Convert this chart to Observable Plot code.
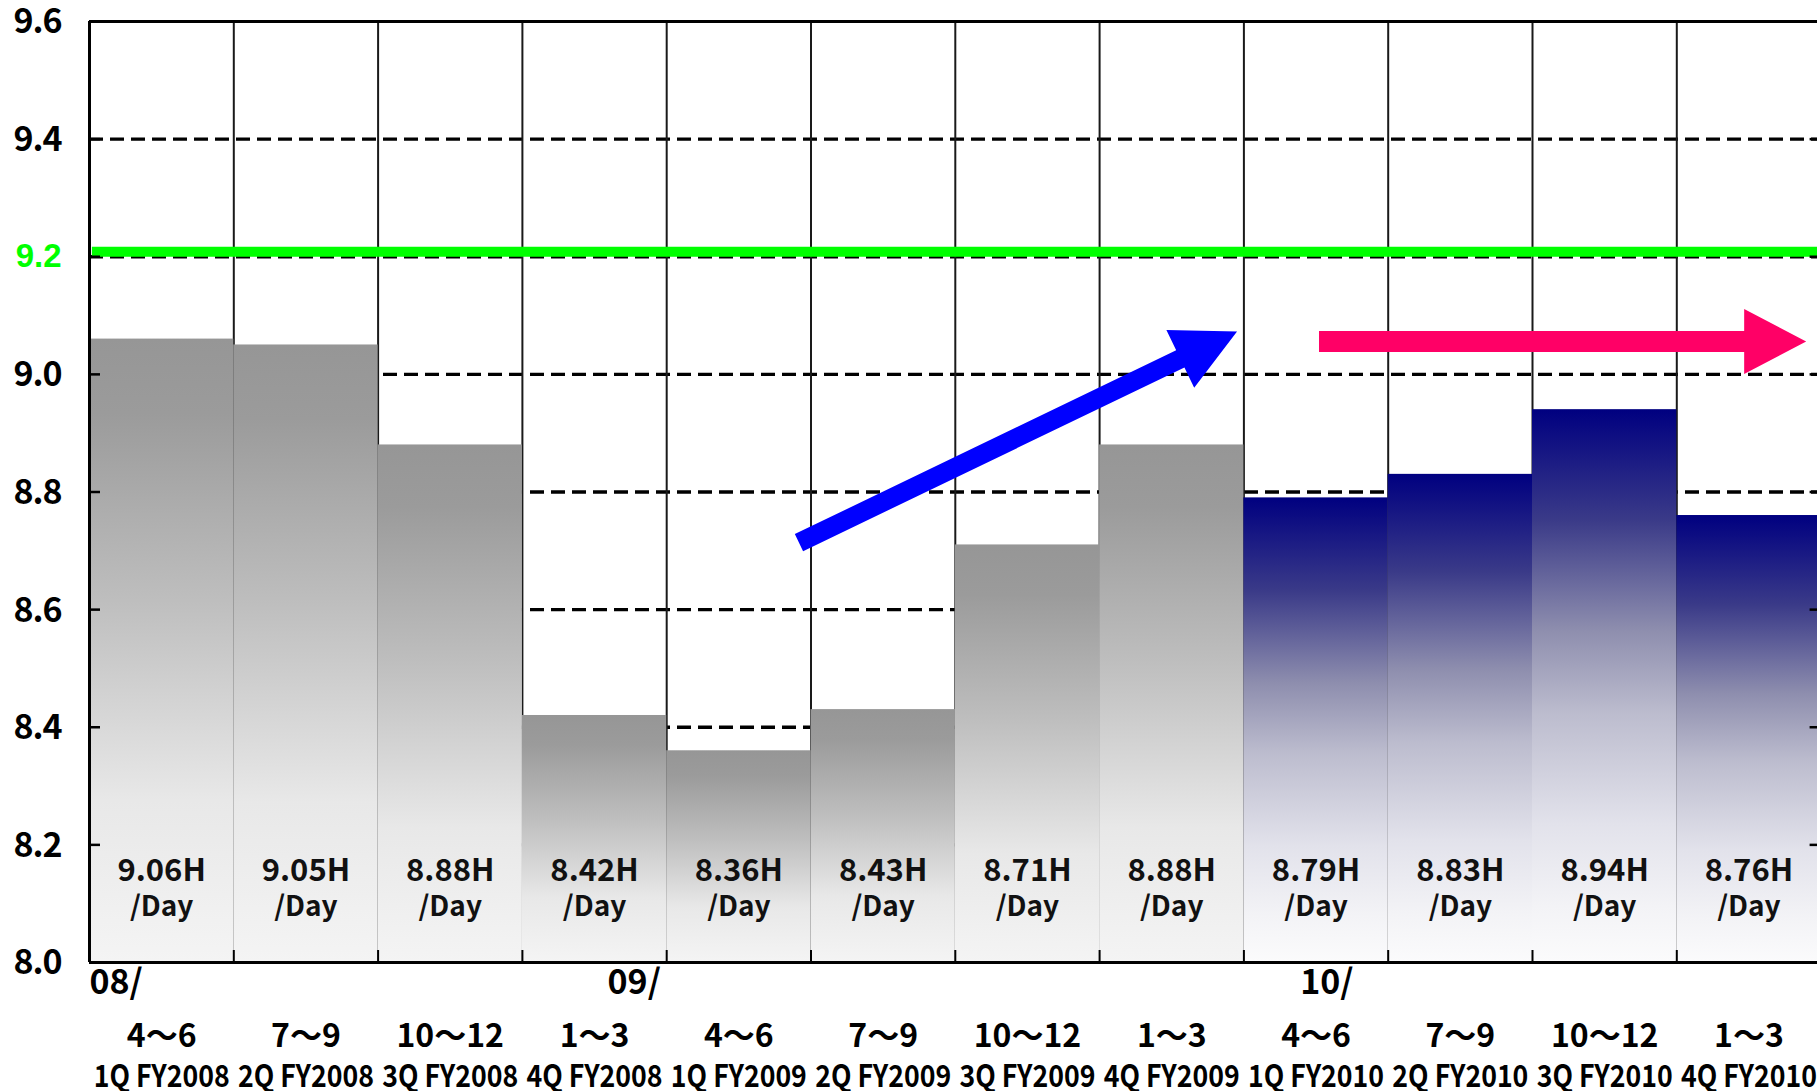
<!DOCTYPE html>
<html>
<head>
<meta charset="utf-8">
<script src="https://cdn.jsdelivr.net/npm/d3@7"></script>
<script src="https://cdn.jsdelivr.net/npm/@observablehq/plot@0.6"></script>
<style>
  html, body { margin: 0; padding: 0; background: #fff; overflow: hidden; }
  #chart svg { max-width: none !important; display: block; }
</style>
</head>
<body>
<svg width="0" height="0" style="position:absolute">
  <defs>
    <linearGradient id="grayFade" x1="0" y1="0" x2="0" y2="1">
      <stop offset="0" stop-color="#969696"/>
      <stop offset="0.12" stop-color="#9b9b9b"/>
      <stop offset="0.42" stop-color="#bebebe"/>
      <stop offset="0.74" stop-color="#e8e8e8"/>
      <stop offset="1" stop-color="#f4f4f4"/>
    </linearGradient>
    <linearGradient id="navyFade" x1="0" y1="0" x2="0" y2="1">
      <stop offset="0" stop-color="#000080"/>
      <stop offset="0.2" stop-color="#3a3a88"/>
      <stop offset="0.4" stop-color="#8e8eae"/>
      <stop offset="0.55" stop-color="#bcbcce"/>
      <stop offset="0.75" stop-color="#e2e2eb"/>
      <stop offset="0.9" stop-color="#f3f3f6"/>
      <stop offset="1" stop-color="#fbfbfc"/>
    </linearGradient>
  </defs>
</svg>
<div id="chart"></div>
<script>
// Average working hours per day, by quarter
const quarters = ["1Q FY2008", "2Q FY2008", "3Q FY2008", "4Q FY2008",
                  "1Q FY2009", "2Q FY2009", "3Q FY2009", "4Q FY2009",
                  "1Q FY2010", "2Q FY2010", "3Q FY2010", "4Q FY2010"];
const monthRanges = ["4～6", "7～9", "10～12", "1～3",
                     "4～6", "7～9", "10～12", "1～3",
                     "4～6", "7～9", "10～12", "1～3"];
const hours = [9.06, 9.05, 8.88, 8.42, 8.36, 8.43, 8.71, 8.88, 8.79, 8.83, 8.94, 8.76];
const highlightYear = "FY2010";

// calendar-year markers under the axis (position in quarter units)
const yearMarks = [
  {label: "08/", at: 0},
  {label: "09/", at: 3.59},
  {label: "10/", at: 8.39}
];

const yTicks = [8.0, 8.2, 8.4, 8.6, 8.8, 9.0, 9.2, 9.4, 9.6];
const target = 9.2;

// trend arrows, endpoints in (quarter position, hours)
const trendArrows = [
  {from: [4.92, 8.713], to: [7.956, 9.072]},
  {from: [8.524, 9.055], to: [11.9, 9.055]}
];
const arrowStyles = [
  {color: "#0000ff", shaft: 19, headLength: 63, headWidth: 64},
  {color: "#ff0066", shaft: 21, headLength: 62, headWidth: 65}
];

const rows = quarters.map((q, i) => ({
  i, quarter: q, months: monthRanges[i], hours: hours[i], fy: q.split(" ")[1]
}));

const W = 1822, H = 1091;
const ML = 89, MR = 1.4, MT = 21, MB = 129;
const frameW = W - ML - MR, frameH = H - MT - MB;
const boundaries = d3.range(0, quarters.length + 1);
const FONT = "'Noto Sans CJK JP', 'Noto Sans', sans-serif";

function blockArrows(index, scales) {
  const g = d3.create("svg:g");
  trendArrows.forEach((a, k) => {
    const s = arrowStyles[k];
    const x0 = scales.x(a.from[0]), y0 = scales.y(a.from[1]);
    const x1 = scales.x(a.to[0]), y1 = scales.y(a.to[1]);
    const len = Math.hypot(x1 - x0, y1 - y0);
    const ux = (x1 - x0) / len, uy = (y1 - y0) / len;
    const nx = -uy, ny = ux;
    const bx = x1 - ux * s.headLength, by = y1 - uy * s.headLength;
    const w = s.shaft / 2, hw = s.headWidth / 2;
    const pts = [
      [x0 + nx * w, y0 + ny * w], [bx + nx * w, by + ny * w], [bx + nx * hw, by + ny * hw],
      [x1, y1],
      [bx - nx * hw, by - ny * hw], [bx - nx * w, by - ny * w], [x0 - nx * w, y0 - ny * w]
    ];
    g.append("path").attr("d", "M" + pts.map(p => p.join(",")).join("L") + "Z").attr("fill", s.color);
  });
  return g.node();
}

const plot = Plot.plot({
  width: W,
  height: H,
  marginLeft: ML, marginRight: MR, marginTop: MT, marginBottom: MB,
  style: {background: "#fff", fontFamily: FONT, maxWidth: "none", overflow: "visible"},
  x: {type: "linear", domain: [0, quarters.length], axis: null},
  y: {domain: [8, 9.6], axis: null},
  marks: [
    // dashed horizontal grid
    Plot.ruleY(yTicks.slice(1, -1), {stroke: "#000", strokeWidth: 3.4, strokeDasharray: "14,7"}),
    // vertical column separators
    Plot.ruleX(boundaries.slice(1, -1), {stroke: "#1a1a1a", strokeWidth: 2}),
    // bars
    Plot.rectY(rows.filter(d => d.fy !== highlightYear), {
      x1: d => d.i, x2: d => d.i + 1, y1: 8, y2: d => d.hours, fill: "url(#grayFade)"
    }),
    Plot.rectY(rows.filter(d => d.fy === highlightYear), {
      x1: d => d.i, x2: d => d.i + 1, y1: 8, y2: d => d.hours, fill: "url(#navyFade)"
    }),
    // target line
    Plot.ruleY([target], {x1: 0.02, x2: quarters.length, dy: -5, stroke: "#00ff00", strokeWidth: 10}),
    // frame
    Plot.ruleY([9.6], {stroke: "#000", strokeWidth: 3}),
    Plot.ruleY([8], {stroke: "#000", strokeWidth: 3}),
    Plot.ruleX([0, quarters.length], {stroke: "#000", strokeWidth: 3}),
    // inward ticks
    Plot.tickY(yTicks.slice(1, -1), {stroke: "#000", strokeWidth: 2.5, insetRight: frameW - 11}),
    Plot.tickY(yTicks.slice(1, -1), {stroke: "#000", strokeWidth: 2.5, insetLeft: frameW - 11}),
    Plot.tickX(boundaries.slice(1, -1), {stroke: "#000", strokeWidth: 2, insetTop: frameH - 12}),
    // y tick labels
    Plot.text(yTicks.filter(v => v !== target), {
      y: d => d, text: d => d.toFixed(1), frameAnchor: "left", textAnchor: "end", dx: -27, dy: 1,
      fontSize: 34, fontWeight: "bold", fill: "#000", fontFamily: FONT
    }),
    Plot.text([target], {
      y: d => d, text: d => d.toFixed(1), frameAnchor: "left", textAnchor: "end", dx: -28,
      fontSize: 33, fontWeight: "bold", fill: "#00ff00", fontFamily: "'Liberation Sans', Arial, sans-serif"
    }),
    // value labels inside the bars
    Plot.text(rows, {
      x: d => d.i + 0.5, text: d => d.hours.toFixed(2) + "H", frameAnchor: "bottom", dy: -82,
      fontSize: 31, fontWeight: "bold", fill: "#111", fontFamily: FONT
    }),
    Plot.text(rows, {
      x: d => d.i + 0.5, text: () => "/Day", frameAnchor: "bottom", dy: -47,
      fontSize: 28, fontWeight: "bold", fill: "#111", fontFamily: FONT
    }),
    // category labels below the axis
    Plot.text(yearMarks, {
      x: d => d.at, text: d => d.label, frameAnchor: "bottom", textAnchor: "start", dy: 31,
      fontSize: 34, fontWeight: "bold", fill: "#000", fontFamily: FONT
    }),
    Plot.text(rows, {
      x: d => d.i + 0.5, text: d => d.months, frameAnchor: "bottom", dy: 84,
      fontSize: 32, fontWeight: "bold", fill: "#000", fontFamily: FONT
    }),
    Plot.text(rows, {
      x: d => d.i + 0.5, text: d => d.quarter, frameAnchor: "bottom", dy: 124,
      fontSize: 31, fontWeight: "bold", fill: "#000", fontFamily: FONT
    }),
    // trend arrows
    blockArrows
  ]
});

document.getElementById("chart").append(plot);

// fit the axis lettering to its narrow, evenly spaced cells
const tickLabels = new Set(yTicks.map(v => v.toFixed(1)));
plot.querySelectorAll("text").forEach(t => {
  const s = t.textContent;
  if (quarters.includes(s)) {
    t.setAttribute("textLength", 136);
    t.setAttribute("lengthAdjust", "spacingAndGlyphs");
  } else if (tickLabels.has(s) && t.closest("g").getAttribute("fill") !== "#00ff00") {
    t.setAttribute("textLength", 49);
    t.setAttribute("lengthAdjust", "spacing");
  }
});
</script>
</body>
</html>
